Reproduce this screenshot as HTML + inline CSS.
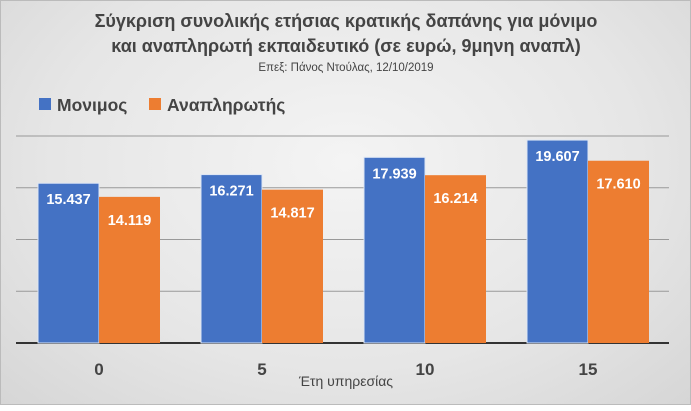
<!DOCTYPE html>
<html><head><meta charset="utf-8"><style>
body{margin:0;width:691px;height:405px;overflow:hidden;font-family:"Liberation Sans","DejaVu Sans",sans-serif}
#wrap{position:absolute;left:0;top:0;width:689px;height:403px;border:1px solid #bbb;background:radial-gradient(ellipse at 50% 40%,#f4f4f4 0%,#e6e6e6 60%,#d6d6d6 100%)}
</style></head><body>
<div id="wrap">
<svg id="c" width="691" height="405">
<text x="345" y="26" text-anchor="middle" font-size="18" font-weight="bold" fill="#444">Σύγκριση συνολικής ετήσιας κρατικής δαπάνης για μόνιμο</text>
<text x="345" y="51" text-anchor="middle" font-size="18" font-weight="bold" fill="#444">και αναπληρωτή εκπαιδευτικό (σε ευρώ, 9μηνη αναπλ)</text>
<text x="345" y="70" text-anchor="middle" font-size="11.5" fill="#444">Επεξ: Πάνος Ντούλας, 12/10/2019</text>
<rect x="38" y="97" width="12" height="12" fill="#4472c4"/>
<text x="56" y="110" font-size="17.5" font-weight="bold" fill="#444">Μονιμος</text>
<rect x="148" y="97" width="12" height="12" fill="#ed7d31"/>
<text x="166" y="110" font-size="17.5" font-weight="bold" fill="#444">Αναπληρωτής</text>
<g id="grid"></g><g id="bars"></g>
<text x="345" y="385" text-anchor="middle" font-size="14" fill="#444">Έτη υπηρεσίας</text>
</svg></div>
<script>
const categories=["0","5","10","15"];
const monimos=[15437,16271,17939,19607];
const anapl=[14119,14817,16214,17610];
const labelsM=["15.437","16.271","17.939","19.607"];
const labelsA=["14.119","14.817","16.214","17.610"];
const gridVals=[0,5000,10000,15000,20000];
const NS="http://www.w3.org/2000/svg";
const y0=342,yTop=135,maxV=20000;
const y=v=>y0-(y0-yTop)*v/maxV;
const xc=i=>98+163*i;
const bw=61;
const g=document.getElementById('grid'),b=document.getElementById('bars');
function mk(tag,attrs,parent){const e=document.createElementNS(NS,tag);for(const k in attrs)e.setAttribute(k,attrs[k]);parent.appendChild(e);return e;}
gridVals.forEach(v=>{
 const l=mk('line',{x1:15,x2:668,y1:y(v),y2:y(v),stroke:v===0?'#333':'#999','stroke-width':v===0?2:1},g);
 
 
});
categories.forEach((c,i)=>{
 const r1=mk('rect',{x:xc(i)-bw,y:y(monimos[i]),width:bw,height:y0-y(monimos[i]),fill:'#4472c4',stroke:'#dde6f5','stroke-width':1},b);
 
 
 const r2=mk('rect',{x:xc(i),y:y(anapl[i]),width:bw,height:y0-y(anapl[i]),fill:'#ed7d31'},b);
 
 
 const t1=mk('text',{x:xc(i)-bw/2,y:y(monimos[i])+21,'text-anchor':'middle','font-size':14.5,'font-weight':'bold',fill:'#fff'},b);
 t1.textContent=labelsM[i];
 
 
 const t2=mk('text',{x:xc(i)+bw/2,y:y(anapl[i])+28,'text-anchor':'middle','font-size':14.5,'font-weight':'bold',fill:'#fff'},b);
 t2.textContent=labelsA[i];
 
 
 const t3=mk('text',{x:xc(i),y:374,'text-anchor':'middle','font-size':17,'font-weight':'bold',fill:'#444'},b);
 t3.textContent=c;
 
 
});
</script>
</body></html>
